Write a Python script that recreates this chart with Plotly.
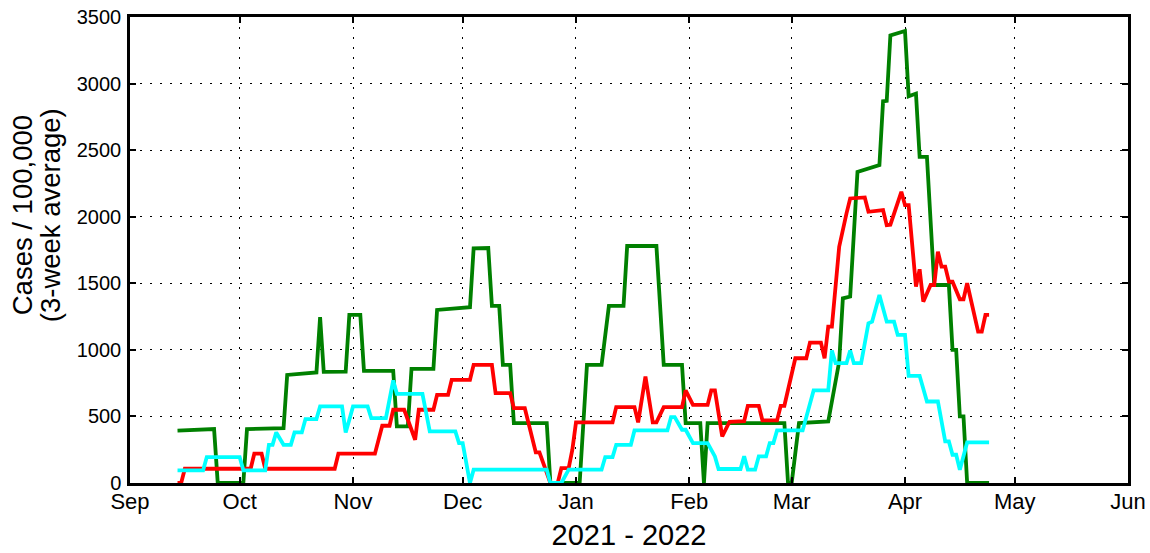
import plotly.graph_objects as go

# ---- data (vertices of each curve) ----
green_dates = ["2021-09-14", "2021-09-24", "2021-09-25", "2021-10-02", "2021-10-03", "2021-10-13",
               "2021-10-14", "2021-10-22", "2021-10-23", "2021-10-24", "2021-10-30", "2021-10-31",
               "2021-11-03", "2021-11-04", "2021-11-12", "2021-11-13", "2021-11-16", "2021-11-17",
               "2021-11-23", "2021-11-24", "2021-12-03", "2021-12-04", "2021-12-08", "2021-12-09",
               "2021-12-11", "2021-12-12", "2021-12-14", "2021-12-15", "2021-12-24", "2021-12-25",
               "2022-01-02", "2022-01-04", "2022-01-08", "2022-01-10", "2022-01-14", "2022-01-15",
               "2022-01-23", "2022-01-25", "2022-01-30", "2022-01-31", "2022-02-04", "2022-02-05",
               "2022-02-06", "2022-02-27", "2022-02-28", "2022-03-01", "2022-03-03", "2022-03-11",
               "2022-03-14", "2022-03-15", "2022-03-17", "2022-03-19", "2022-03-25", "2022-03-26",
               "2022-03-27", "2022-03-28", "2022-04-01", "2022-04-02", "2022-04-04", "2022-04-05",
               "2022-04-07", "2022-04-09", "2022-04-13", "2022-04-14", "2022-04-15", "2022-04-16",
               "2022-04-17", "2022-04-18", "2022-04-24"]
green_values = [394, 405, 0, 0, 405, 412,
                812, 830, 1245, 835, 837, 1262,
                1262, 842, 842, 425, 425, 857,
                857, 1300, 1320, 1762, 1765, 1330,
                1330, 887, 887, 450, 450, 0,
                0, 887, 887, 1330, 1330, 1780,
                1780, 887, 887, 450, 450, 0,
                450, 450, 0, 0, 450, 462,
                912, 1387, 1400, 2337, 2387, 2867,
                2870, 3362, 3395, 2905, 2925, 2450,
                2450, 1487, 1487, 1000, 1000, 500,
                500, 0, 0]

red_dates = ["2021-09-14", "2021-09-15", "2021-09-16", "2021-10-04", "2021-10-05", "2021-10-07",
             "2021-10-08", "2021-10-27", "2021-10-28", "2021-11-07", "2021-11-09", "2021-11-11",
             "2021-11-12", "2021-11-15", "2021-11-18", "2021-11-19", "2021-11-23", "2021-11-24",
             "2021-11-27", "2021-11-28", "2021-12-03", "2021-12-04", "2021-12-09", "2021-12-10",
             "2021-12-14", "2021-12-15", "2021-12-18", "2021-12-21", "2021-12-22", "2021-12-25",
             "2021-12-27", "2021-12-28", "2021-12-30", "2021-12-31", "2022-01-01", "2022-01-11",
             "2022-01-12", "2022-01-17", "2022-01-18", "2022-01-20", "2022-01-22", "2022-01-23",
             "2022-01-25", "2022-01-30", "2022-01-31", "2022-02-02", "2022-02-06", "2022-02-07",
             "2022-02-08", "2022-02-10", "2022-02-12", "2022-02-16", "2022-02-17", "2022-02-20",
             "2022-02-21", "2022-02-25", "2022-02-26", "2022-02-27", "2022-03-02", "2022-03-05",
             "2022-03-06", "2022-03-09", "2022-03-10", "2022-03-11", "2022-03-12", "2022-03-14",
             "2022-03-16", "2022-03-17", "2022-03-21", "2022-03-22", "2022-03-26", "2022-03-27",
             "2022-03-28", "2022-03-31", "2022-04-01", "2022-04-02", "2022-04-04", "2022-04-05",
             "2022-04-06", "2022-04-08", "2022-04-09", "2022-04-10", "2022-04-11", "2022-04-12",
             "2022-04-13", "2022-04-14", "2022-04-16", "2022-04-17", "2022-04-18", "2022-04-21",
             "2022-04-22", "2022-04-23", "2022-04-24"]
red_values = [0, 0, 107, 107, 220, 220,
              107, 107, 220, 220, 430, 430,
              550, 550, 325, 550, 550, 662,
              662, 775, 775, 887, 887, 675,
              675, 562, 562, 230, 230, 0,
              0, 112, 112, 250, 455, 455,
              570, 570, 455, 800, 455, 455,
              570, 570, 695, 587, 587, 695,
              695, 350, 460, 465, 580, 580,
              470, 470, 580, 580, 937, 937,
              1055, 1055, 937, 1175, 1175, 1775,
              2025, 2137, 2145, 2037, 2050, 1937,
              1940, 2187, 2087, 2087, 1475, 1605,
              1362, 1487, 1487, 1737, 1625, 1625,
              1512, 1512, 1380, 1380, 1500, 1137,
              1137, 1262, 1262]

cyan_dates = ["2021-09-14", "2021-09-21", "2021-09-22", "2021-10-01", "2021-10-02", "2021-10-08",
              "2021-10-09", "2021-10-10", "2021-10-11", "2021-10-13", "2021-10-15", "2021-10-16",
              "2021-10-18", "2021-10-19", "2021-10-22", "2021-10-23", "2021-10-29", "2021-10-30",
              "2021-10-31", "2021-11-01", "2021-11-05", "2021-11-06", "2021-11-10", "2021-11-12",
              "2021-11-13", "2021-11-20", "2021-11-22", "2021-11-29", "2021-11-30", "2021-12-01",
              "2021-12-03", "2021-12-04", "2021-12-24", "2021-12-25", "2021-12-28", "2021-12-30",
              "2022-01-08", "2022-01-09", "2022-01-11", "2022-01-12", "2022-01-16", "2022-01-17",
              "2022-01-26", "2022-01-27", "2022-01-28", "2022-01-30", "2022-01-31", "2022-02-02",
              "2022-02-06", "2022-02-08", "2022-02-09", "2022-02-15", "2022-02-16", "2022-02-17",
              "2022-02-19", "2022-02-20", "2022-02-22", "2022-02-23", "2022-02-24", "2022-02-25",
              "2022-03-04", "2022-03-07", "2022-03-11", "2022-03-12", "2022-03-13", "2022-03-16",
              "2022-03-17", "2022-03-18", "2022-03-20", "2022-03-22", "2022-03-23", "2022-03-25",
              "2022-03-27", "2022-03-29", "2022-03-30", "2022-04-01", "2022-04-02", "2022-04-05",
              "2022-04-07", "2022-04-10", "2022-04-12", "2022-04-13", "2022-04-14", "2022-04-15",
              "2022-04-16", "2022-04-18", "2022-04-24"]
cyan_values = [95, 95, 195, 195, 95, 95,
               287, 287, 380, 287, 287, 380,
               380, 480, 480, 575, 575, 380,
               475, 575, 575, 487, 487, 770,
               670, 670, 387, 387, 300, 300,
               0, 100, 100, 0, 0, 100,
               100, 195, 195, 287, 287, 395,
               395, 495, 495, 400, 400, 300,
               300, 200, 105, 105, 200, 100,
               100, 200, 200, 300, 300, 395,
               395, 695, 695, 995, 900, 900,
               995, 900, 900, 1200, 1212, 1412,
               1212, 1212, 1112, 1112, 805, 805,
               612, 612, 312, 312, 212, 212,
               100, 305, 305]

y_ticks = [0, 500, 1000, 1500, 2000, 2500, 3000, 3500]
x_range = ["2021-09-01", "2022-06-01"]
y_title_lines = ["Cases / 100,000", "(3-week average)"]

series = [
    (green_dates, green_values, "#008000"),
    (red_dates, red_values, "#ff0000"),
    (cyan_dates, cyan_values, "#00ffff"),
]

fig = go.Figure()
for d, v, c in series:
    fig.add_trace(go.Scatter(x=d, y=v, mode="lines",
                             line=dict(color=c, width=3.8),
                             showlegend=False, hoverinfo="skip"))

FONT = "Liberation Sans, Arial, sans-serif"

# y-axis title as two tightly spaced rotated lines
for txt, xp in zip(y_title_lines, [-0.108, -0.080]):
    fig.add_annotation(text=txt, textangle=-90, xref="paper", yref="paper",
                       x=xp, y=0.575, xanchor="center", yanchor="middle",
                       showarrow=False, font=dict(size=27.5, family=FONT, color="black"))

fig.update_layout(
    width=1150, height=553,
    margin=dict(l=130, r=22, t=17, b=70),
    paper_bgcolor="white", plot_bgcolor="white",
    font=dict(family=FONT, color="black", size=19),
    xaxis=dict(
        range=x_range, type="date", automargin=False,
        dtick="M1", tick0="2021-09-01", tickformat="%b",
        ticks="inside", ticklen=6, tickcolor="black", tickwidth=1.5,
        showline=True, linecolor="black", linewidth=2.5, mirror="ticks",
        showgrid=True, gridcolor="black", griddash="2px,8px", gridwidth=1.2,
        zeroline=False, ticklabelstandoff=-3,
        tickfont=dict(size=22),
        title=dict(text="2021 - 2022", font=dict(size=29), standoff=12),
    ),
    yaxis=dict(
        range=[0, 3500], tickvals=y_ticks, automargin=False,
        ticks="inside", ticklen=6, tickcolor="black", tickwidth=1.5,
        showline=True, linecolor="black", linewidth=2.5, mirror="ticks",
        showgrid=True, gridcolor="black", griddash="2px,8px", gridwidth=1.2,
        zeroline=False, ticklabelstandoff=2,
        tickfont=dict(size=20),
    ),
)

fig.write_html("out.html", config={"displayModeBar": False},
               post_script="document.body.style.margin='0';document.body.style.overflow='hidden';")
